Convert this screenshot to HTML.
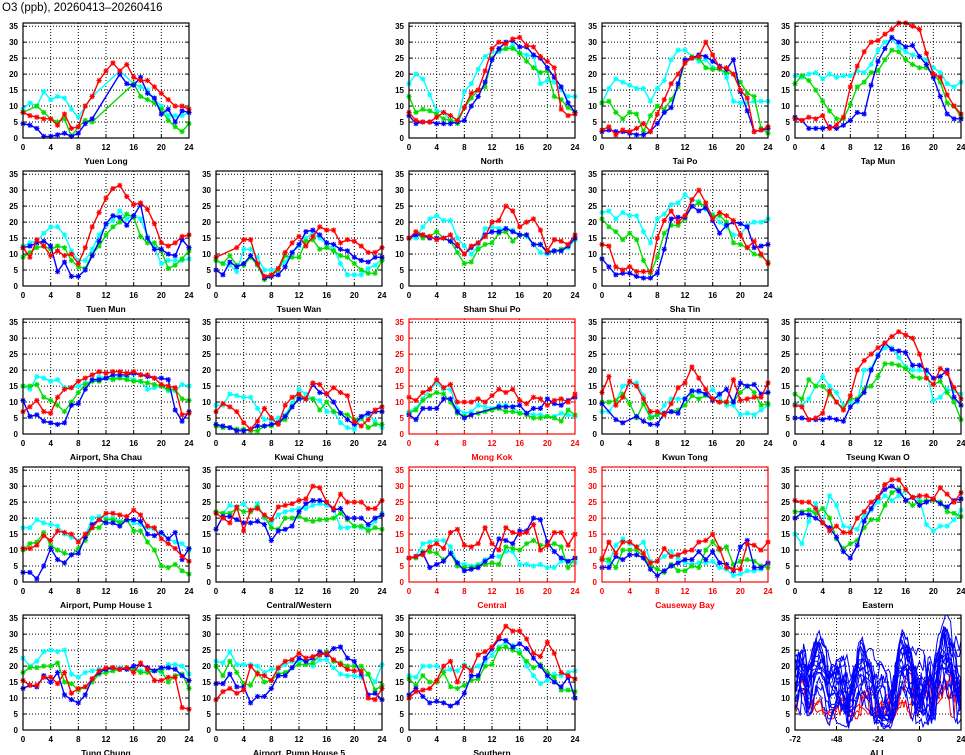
<!DOCTYPE html>
<html><head><meta charset="utf-8"><style>
body{margin:0;background:#fff;width:965px;height:755px;overflow:hidden}
svg{display:block}
text{font-family:"Liberation Sans",sans-serif}
</style></head><body>
<svg id="s" width="965" height="755" xmlns="http://www.w3.org/2000/svg">
<text x="2" y="11" font-size="11.5" fill="#000">O3 (ppb), 20260413–20260416</text>
</svg>
<script>
const P=[
["Yuen Long",0,0,0,{
r:[8,7,6.5,6,6,4,7.5,3,3.5,10,13,18,21,23.5,21,23,19,18,18,16,14,12,10,10,9],
b:[4.5,4,3,0.5,0.5,1,1.5,0.5,1.5,4.5,6,null,null,null,20,17,16.5,19,14,12.5,7.5,9,5,8.5,8],
g:[8,null,10,8,6,5,6,0.5,3.5,5.5,5,null,null,null,null,null,17,13,12,11,9,5.5,3.5,2,4.5],
c:[9,11,10,14.5,12,13,12.5,9,6.5,10,13,null,null,null,21,null,17,16,15,12,10,7,7,7,8]}],
["North",0,2,0,{
r:[8,5.5,5,5,6.5,8,7,5.5,9.5,14,15,21,28,30,29.5,31,31.5,29,28.5,25.5,24,22,9,7,7.5],
b:[7,4.5,5,5,4.5,4.5,4.5,5,5.5,10,13,17.5,24.5,28,30,30.5,28.5,28.5,26,25,22,19,16,11,8],
g:[13,8,9,8.5,7.5,6,5.5,4.5,9.5,12.5,15,16,25,27.5,28,28,26.5,24,22,20.5,21,13,12,9.5,8],
c:[17,20,18.5,13.5,8.5,8,5.5,5.5,14.5,17,21.5,25.5,27,27,28,29,26.5,26,25.5,17,18,17.5,15,13,13]}],
["Tai Po",0,3,0,{
r:[2.5,3.5,1,2.5,2,3,4.5,2,7.5,12,17,20,23.5,25,25.5,30,26,22,22,20,15,12.5,2,2.5,3.5],
b:[2,2.5,2,2,1.5,1,1,2,4.5,8,9.5,17,24.5,25,26,25.5,24,22.5,21.5,24.5,14.5,8.5,2,2.5,3],
g:[11,11.5,8,6,8,7.5,2,7,10,9,12,16,24,25.5,25,22,21.5,21.5,20.5,20,17.5,14,13,3,1.5],
c:[11,15.5,18.5,17.5,16.5,15.5,15.5,11.5,15.5,18,24.5,27.5,27.5,25.5,24,24.5,22,22,19,11.5,11,11,11.5,11.5,11.5]}],
["Tap Mun",0,4,0,{
r:[6,5.5,6.5,6,7,3,4,6.5,16,22.5,27,30,30.5,32.5,34,36,36,35,34,26.5,20,19,13.5,10,7.5],
b:[6.5,5.5,3,3,3,3.5,3,4,5.5,8,7.5,16.5,24,28,31.5,30,28.5,29,25.5,23,19,13,7.5,6,6],
g:[17,19.5,18,15,11.5,8.5,6,6,10.5,16,17.5,20.5,21,24.5,27.5,27,24.5,23,22,22,20,17.5,11,10,6.5],
c:[19.5,19,20,20.5,18.5,20,19,19.5,19.5,21,20.5,23,27.5,30,31,28.5,27,26,25.5,24.5,22,20.5,17,16,17.5]}],
["Tuen Mun",1,0,0,{
r:[12,9,14.5,12.5,9.5,11,9.5,10,7,12,18.5,23,27.5,30.5,31.5,28,25.5,26,24,19.5,13.5,12.5,13.5,15.5,16],
b:[12,12.5,13.5,14,12.5,4.5,7.5,3,3,5,9.5,14,19.5,22,21.5,19,22,25.5,15,11.5,11.5,10,9.5,14.5,12],
g:[9,10.5,12,12.5,11.5,12.5,12,8,6,5.5,10,12.5,16,18.5,20,22.5,21.5,15.5,13.5,13.5,11,5.5,6.5,8.5,11],
c:[12.5,13.5,14,16.5,18.5,18.5,16,11,8,8,11.5,16,19,20.5,23.5,21,22,21,15.5,12,7,8,8,8,8.5]}],
["Tsuen Wan",1,1,0,{
r:[9,null,null,12,14.5,14.5,7,3,3.5,5.5,10.5,13.5,15.5,12.5,15.5,18.5,17.5,17.5,13.5,14.5,14,12.5,10.5,10.5,12],
b:[5,3.5,7.5,6,7,9.5,7,2.5,3,3.5,6,10.5,13,17,17.5,16,13.5,13,11.5,11,9,8,7.5,9,9],
g:[8,7,9.5,6.5,6.5,9,6.5,2,3,5,9.5,9,9,14,14.5,11.5,12,11,9.5,9,7,5,4,4,8],
c:[8,7,6.5,4.5,11.5,11.5,9,5,5,5.5,7.5,10.5,12.5,15,16.5,15,13,11.5,7,3.5,3.5,3.5,5.5,6.5,8.5]}],
["Sham Shui Po",1,2,0,{
r:[15,17,16,15.5,14.5,15,16,13,10,12.5,13.5,15.5,20,20.5,25,23.5,18.5,20,21,17.5,11,14.5,14,13,16],
b:[15,16,16,15,15,15,14,12.5,10,12,13.5,16,17,17,18,17,16,16,13,13,10.5,11,11,12.5,15],
g:[15,16.5,15,15.5,17,15,14,10.5,7,7.5,11.5,13,13.5,16.5,17,14,16,16,13,13,11,11,11.5,12.5,15],
c:[15,15,18.5,21,22,20.5,20.5,15,12.5,10,12.5,18,18.5,18,18,17.5,16,15.5,13,10.5,10,11,11,12,14.5]}],
["Sha Tin",1,3,0,{
r:[13,12.5,6,5,6,4.5,4.5,4.5,15,20.5,23.5,20,22,27,30,26,21,23,22,20.5,16,12,14,10,7],
b:[8.5,6,3.5,4,4,3,2.5,2.5,4,11.5,21,21.5,21.5,25,23.5,24.5,20.5,16.5,19,20,19.5,18.5,12,12.5,13],
g:[21,18.5,17,14.5,16.5,14.5,8,4,9,16.5,19,19,21,25,26,25,22,22,20,13.5,13,12,10,9.5,7.5],
c:[23,23.5,21,23,22,22,17,13.5,21,22.5,25.5,26,28.5,27,26.5,24,22.5,20,18.5,16,16,19,20,20,21]}],
["Airport, Sha Chau",2,0,0,{
r:[7,8.5,10.5,7,6.5,11.5,14,14.5,16.5,17.5,18.5,19.5,19,19.5,19.5,19,19.5,18.5,18.5,17.5,15.5,15,14.5,6,6.5],
b:[10.5,5.5,6,4,3.5,3,3.5,9,9.5,14,17,17,17.5,18.5,18.5,18.5,19,18.5,18,17.5,17.5,17,7.5,4,7],
g:[15,15,15.5,11.5,10.5,9,7,10,13,15.5,16.5,16.5,17.5,17,17.5,17,16.5,16.5,16,15.5,15,14,14,11,10.5],
c:[15,14,18,17.5,16.5,17,14.5,14.5,15,16,16.5,18,17.5,17.5,18,18,17,16.5,14,14.5,15,13.5,13.5,15.5,15]}],
["Kwai Chung",2,1,0,{
r:[7,9.5,8.5,7,3.5,1.5,4,8,5,3,9,11.5,12.5,11,16,15.5,12.5,14.5,13,12,4,2.5,4.5,7.5,8.5],
b:[3,2.5,2,1,1,1.5,2.5,2.5,3,3.5,5.5,8.5,11,11,15.5,13,12.5,10,6.5,4.5,3,5.5,6.5,7,7],
g:[2.5,2,2,1.5,1.5,1,1,2.5,2.5,3.5,4.5,8.5,11.5,11,11,7.5,10,7,6.5,6,4.5,5,2,3,3],
c:[9,9,12.5,12,11.5,11.5,8,4.5,4.5,5,6,9.5,14,12.5,11,10.5,7,7,3.5,2,1.5,5,6,4,2]}],
["Mong Kok",2,2,1,{
r:[11.5,10.5,13,14,17,14.5,15.5,10,10,10,11,10,12,14,13,14,10.5,9.5,11.5,11,9,10.5,11,10,12.5],
b:[6,4.5,8,8,8,11,11,7,5,6,null,null,null,8.5,8.5,8.5,9,6.5,8,8,11,9.5,9,10.5,11.5],
g:[6.5,7.5,10.5,12,13,12.5,10,6.5,5.5,6,6.5,7,7.5,8,7,7,6.5,6,5,5,5.5,5,4,7.5,6],
c:[7,8,11,14,16,14,14,8,6.5,7,9,8.5,8,9,9,8.5,6.5,6.5,6,6,5.5,5.5,6.5,6,5.5]}],
["Kwun Tong",2,3,0,{
r:[13,18,9,11.5,16.5,15,11,7,7,6,9.5,14.5,16,21,17.5,14,11,10,10,17,10.5,11,11.5,11.5,16],
b:[9.5,null,4.5,3.5,null,5.5,4,3,3,6.5,7,6.5,11,13.5,13.5,12.5,10.5,12.5,14,10,16,15,15.5,12.5,13],
g:[10,10,10.5,12.5,9.5,5,9.5,5,6,6.5,7,7.5,9,12,11,12,11,10,10,10,13,15,13,9,9.5],
c:[7,7,10,15,16,16,12,5.5,6,9,11,11,11,13.5,13,12.5,14,11.5,9,9,6,6.5,6,7.5,9]}],
["Tseung Kwan O",2,4,0,{
r:[9,8.5,4.5,5,6.5,13.5,10,7.5,12,20,23,25,27,28.5,30.5,32,31,30,25,17.5,15.5,20.5,19,14.5,11],
b:[5,5,4.5,4.5,4.5,5,4.5,4,8.5,10.5,13,20,24.5,28.5,26.5,26,25.5,21.5,21.5,20,17.5,18,20,11.5,9],
g:[12.5,11,17,15,15,12.5,10,8,11,11,14,15,18,22,22,21.5,20.5,18,17.5,17.5,15.5,16.5,13,10,4.5],
c:[9.5,9,11,15,18,15,13,9,10,10,20,20.5,25,27,27,24,21,20,20,19.5,10.5,11.5,14,13.5,12.5]}],
["Airport, Pump House 1",3,0,0,{
r:[10.5,10.5,11.5,14.5,13,16,15.5,15,12.5,15,17,19.5,21.5,21.5,21,20.5,22.5,21,17.5,17,13.5,12,10.5,8,6.5],
b:[3,3,1,5,10.5,7,6,8.5,9,14,18,19.5,18.5,18.5,17.5,19.5,19.5,19,15,14.5,15.5,13.5,15.5,7,10.5],
g:[10,12,12.5,15.5,11.5,10,9,8.5,10.5,13,17,17,19.5,19.5,18.5,19.5,16,16,12.5,10,5,4.5,5.5,3.5,2.5],
c:[17,17,19.5,18.5,18,17.5,15,14,13,14.5,20,20.5,20,20,19,19.5,18.5,18,17,16.5,15,13.5,12.5,12,10]}],
["Central/Western",3,1,0,{
r:[21.5,20,18.5,23.5,16,22.5,23,21,19.5,23.5,24,24.5,25.5,26,30,29.5,25,23,27.5,25,25,25,23,23,25.5],
b:[16.5,20.5,20.5,19.5,18.5,18.5,19,18,13,16,16.5,17.5,22,24.5,25.5,25.5,25,22.5,23,20,20,20,18,20,21],
g:[22,21.5,21.5,23,22,22,23.5,20.5,17,16.5,20,20,20.5,19.5,19,19.5,19.5,20,21.5,19.5,17.5,17.5,16,17,16.5],
c:[22,21.5,24,23.5,24.5,22,24.5,20,18.5,21,22,22.5,23,23,24,24.5,24,23,17,17,17.5,17,17,19,21.5]}],
["Central",3,2,1,{
r:[7.5,8,8.5,11,12,10.5,15.5,16.5,11.5,11,12,17,12,10,17,15.5,15,15.5,18,10,11.5,15.5,15.5,11.5,15],
b:[7.5,8,9,4.5,5.5,6.5,9,6,3.5,4,4.5,6.5,8,13.5,13,12,16,16,20,19.5,12.5,9.5,7.5,6.5,7.5],
g:[7.5,7.5,9.5,9.5,9,7,9,5,4.5,4.5,5,5.5,6,5.5,11,10.5,10,12,13,11.5,11.5,12,11,4.5,7.5],
c:[7.5,8,12,12.5,13,13,11,6,5.5,5,5.5,7,8,8,9.5,9.5,5.5,5.5,5,5.5,4.5,4.5,6.5,6.5,6]}],
["Causeway Bay",3,3,1,{
r:[7,12.5,9,12.5,12.5,11,9,6,6.5,10.5,8,8.5,9.5,10,12.5,13,15,10.5,4.5,4,4,12,11.5,10,12.5],
b:[4.5,4.5,8,7,8.5,8.5,7.5,4,2,3.5,5,6,7,7,9.5,7,9.5,6,5.5,3.5,11,13,4.5,4.5,6],
g:[7.5,7,4.5,10,10,10,8,5,4,3,5.5,3.5,3.5,5,4.5,10,12.5,10,11,5.5,6.5,7,6.5,5,4.5],
c:[7,6,11.5,13.5,12,11,12.5,6.5,6.5,8,9.5,7.5,6,5.5,6,6,6.5,4.5,4,2,2.5,3.5,3.5,4,5.5]}],
["Eastern",3,4,0,{
r:[25.5,25,25,23,18.5,16,17.5,15.5,15.5,20,22,25,26.5,30.5,32,32,29,26.5,27,27,26,29.5,27.5,25,28],
b:[20,21.5,21,20,18.5,17,14,9.5,7.5,11.5,19,23,26.5,29,30,28.5,25.5,26.5,24,25,26,24.5,23.5,25.5,26],
g:[22,22,22.5,21.5,23,20,13.5,10.5,12,13,17,19.5,19.5,24,28,29,25.5,24,25,25.5,25.5,25,22,21.5,20.5],
c:[15,12,19,24.5,18.5,27,24,17.5,17,16.5,21,22.5,25,27,25.5,27,28.5,26.5,26,18,16,17.5,17.5,19.5,22.5]}],
["Tung Chung",4,0,0,{
r:[15.5,14,14,16.5,16.5,14.5,18,11.5,13,13.5,16,18.5,19.5,19.5,19,19.5,18,21,19,15.5,15.5,16.5,16.5,7,6.5],
b:[13,14,13.5,17,15,18,11,9.5,8.5,11,16,18,19,19.5,19,19,20,20.5,19.5,18.5,19.5,19.5,19,17,15.5],
g:[18,19.5,19.5,20,20,21,15,14.5,12.5,13.5,15,17.5,18,18.5,19,19.5,19,18,18,18.5,18.5,15,17,17.5,13],
c:[22.5,20,21.5,24.5,25,24.5,25,17.5,16.5,18,18.5,19,19,19,19.5,19.5,19.5,18.5,18.5,18.5,18,20.5,20.5,20,17.5]}],
["Airport, Pump House 5",4,1,0,{
r:[9.5,12,13,11.5,12.5,20,17.5,17,15.5,19.5,21.5,22,24,22.5,23,23.5,24,22,20.5,19,18.5,18.5,10,9.5,13],
b:[14.5,14.5,17.5,13.5,13.5,8.5,10.5,10.5,13,17,17,19.5,22.5,21.5,22.5,24.5,23.5,25.5,26,22.5,21.5,17.5,11,11.5,9.5],
g:[20,17,21.5,18,14.5,14,18,15,15.5,17.5,18,19.5,20.5,20.5,21,23.5,24.5,21.5,21,20,20,20,17.5,12.5,14],
c:[21.5,21,24.5,20.5,20.5,20.5,20,18,19,19,20.5,21.5,21.5,21.5,20,22,22,19.5,17.5,17,17,16.5,17.5,15,20.5]}],
["Southern",4,2,0,{
r:[10,12,12.5,13,15.5,20,21.5,15,20,18.5,23.5,24.5,26,29,32.5,31,31,28.5,24,23,27.5,24,18,17,16],
b:[11,13,10.5,8.5,9,8.5,7.5,8.5,11.5,17,17,22.5,25.5,28.5,28,26,27,25.5,22.5,20,17,15,13.5,16.5,10],
g:[16,14,17,15,15,18,13.5,13,14,15.5,16,20,20.5,25.5,26,25,24,21.5,19.5,20.5,18,16.5,12.5,12.5,12],
c:[17,16.5,20,20,20,18.5,19,18.5,20.5,19,20,21.5,23.5,26,27.5,26.5,24.5,20,17,14.5,15.5,17.5,17,18,18.5]}]
];
const COL={r:"#ff0000",b:"#0000ff",g:"#00dd00",c:"#00ffff"};
const W=166,H=115,YM=36;
let o="";
function frame(L,T,red,xt,xmin,xmax,name){
  const fc=red?"#ff0000":"#000";
  // grid
  for(let v=5;v<=35;v+=5){const y=T+H-v*H/YM;o+=`<line x1="${L}" x2="${L+W}" y1="${y}" y2="${y}" stroke="#000" stroke-width="1" stroke-dasharray="1,2"/>`;}
  xt.forEach(v=>{const x=L+(v-xmin)*W/(xmax-xmin);if(v>xmin&&v<xmax)o+=`<line x1="${x}" x2="${x}" y1="${T}" y2="${T+H}" stroke="#000" stroke-dasharray="1,2"/>`;});
  // labels
  for(let v=0;v<=35;v+=5){const y=T+H-v*H/YM;o+=`<text x="${L-5}" y="${y+3}" font-size="8" font-weight="bold" text-anchor="end" fill="${fc}">${v}</text><line x1="${L}" x2="${L+3}" y1="${y}" y2="${y}" stroke="${fc}"/><line x1="${L+W-3}" x2="${L+W}" y1="${y}" y2="${y}" stroke="${fc}"/>`;}
  xt.forEach(v=>{const x=L+(v-xmin)*W/(xmax-xmin);o+=`<text x="${x}" y="${T+H+12}" font-size="8" font-weight="bold" text-anchor="middle" fill="${fc}">${v}</text><line x1="${x}" x2="${x}" y1="${T+H-3}" y2="${T+H}" stroke="${fc}"/>`;});
  o+=`<text x="${L+W/2}" y="${T+H+26}" font-size="8.5" font-weight="bold" text-anchor="middle" fill="${fc}">${name}</text>`;
}
function box(L,T,red){o+=`<rect x="${L}" y="${T}" width="${W}" height="${H}" fill="none" stroke="${red?'#ff0000':'#000'}" stroke-width="1.2"/>`;}
P.forEach(p=>{
  const[name,r,c,red,d]=p;const L=23+193*c,T=23+148*r;
  frame(L,T,red,[0,4,8,12,16,20,24],0,24,name);
  ["c","g","b","r"].forEach(k=>{
    const a=d[k];let pts=[];
    a.forEach((v,i)=>{if(v!=null)pts.push([L+i*W/24,T+H-v*H/YM]);});
    o+=`<polyline points="${pts.map(q=>q[0].toFixed(1)+","+q[1].toFixed(1)).join(" ")}" fill="none" stroke="${COL[k]}" stroke-width="1.4"/>`;
    pts.forEach(q=>{const[x,y]=q,s=2.6;o+=`<path d="M${x-s} ${y}H${x+s}M${x} ${y-s}V${y+s}M${x-2} ${y-2}L${x+2} ${y+2}M${x-2} ${y+2}L${x+2} ${y-2}" stroke="${COL[k]}" stroke-width="1.1"/>`;});
  });
  box(L,T,red);
});
// ALL panel
{const L=23+193*4,T=23+148*4;
 frame(L,T,0,[-72,-48,-24,0,24],-72,24,"ALL");
 const blues=P.filter(p=>!p[3]),reds=P.filter(p=>p[3]);
 const line=(p,col)=>{const d=p[4];let seq=[];
  ["c","g","b","r"].forEach((k,di)=>{for(let i=0;i<(di==3?25:24);i++)seq.push([di*24+i,d[k][i]]);});
  let pts=seq.filter(s=>s[1]!=null).map(s=>(L+s[0]*W/96).toFixed(1)+","+(T+H-Math.min(s[1],YM)*H/YM).toFixed(1));
  o+=`<polyline points="${pts.join(" ")}" fill="none" stroke="${col}" stroke-width="1"/>`;};
 reds.forEach(p=>line(p,"#ff0000"));
 blues.forEach(p=>line(p,"#0000ff"));
 box(L,T,0);}
document.getElementById("s").insertAdjacentHTML("beforeend",o);
</script>
</body></html>
